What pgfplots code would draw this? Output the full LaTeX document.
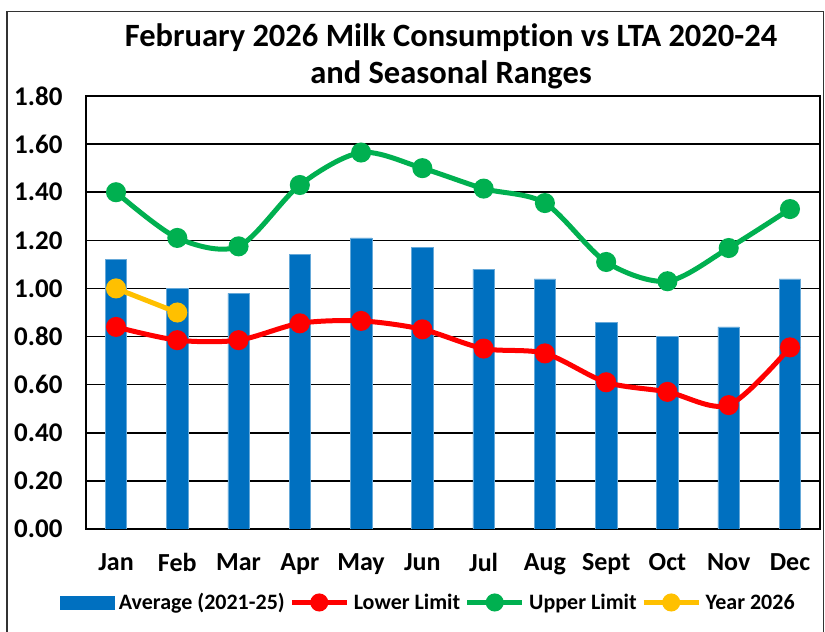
\documentclass[border=0pt]{standalone}
\usepackage{fontspec}
\setmainfont{Carlito}[Ligatures=NoCommon]
\usepackage{pgfplots}
\pgfplotsset{compat=1.18}
\definecolor{barblue}{RGB}{0,112,192}
\definecolor{lred}{RGB}{255,0,0}
\definecolor{ugreen}{RGB}{0,176,80}
\definecolor{yyel}{RGB}{255,192,0}
\pgfplotstableread{
x avg lower upper
0 1.12 0.84 1.40
1 1.00 0.785 1.21
2 0.98 0.785 1.175
3 1.14 0.855 1.43
4 1.21 0.865 1.565
5 1.17 0.83 1.50
6 1.08 0.75 1.415
7 1.04 0.73 1.355
8 0.86 0.61 1.11
9 0.80 0.57 1.03
10 0.84 0.515 1.168
11 1.04 0.755 1.33
}\data
\pgfplotstableread{
x y
0 1.00
1 0.90
}\yeardata
\begin{document}
\begin{tikzpicture}
\useasboundingbox (0,0) rectangle (825pt,632pt);
\draw[line width=1.5pt, black!80] (7pt,-5pt) rectangle (823.5pt,620.5pt);
\begin{axis}[
  at={(86pt,103pt)}, anchor=south west,
  scale only axis, width=734pt, height=433pt,
  xmin=-0.49, xmax=11.49, ymin=0, ymax=1.8,
  axis line style={line width=2.5pt, black},
  ytick={0,0.2,...,1.81},
  xtick={0,...,11},
  xticklabels={Jan,Feb,Mar,Apr,May,Jun,Jul,Aug,Sept,Oct,Nov,Dec},
  major tick length=0pt,
  ymajorgrids, grid style={line width=1.6pt, black},
  /pgf/number format/assume math mode=true,
  yticklabel={\pgfmathprintnumber[fixed,fixed zerofill,precision=2]{\tick}},
  yticklabel style={font=\fontsize{27}{27}\selectfont\bfseries, xshift=-20pt},
  xticklabel style={font=\fontsize{26}{26}\selectfont\bfseries, yshift=-21pt},
  title={February 2026 Milk Consumption vs LTA 2020-24\\and Seasonal Ranges},
  title style={font=\fontsize{32.5}{37}\selectfont\bfseries, align=center, at={(0.5,1)}, anchor=south, yshift=-3pt, xshift=-2pt},
  legend columns=4,
  legend style={draw=none, fill=none, at={(0.468,-0.1697)}, anchor=center,
    font=\fontsize{22}{22}\selectfont\bfseries,
    nodes={inner xsep=4.5pt},
    /tikz/every even column/.append style={column sep=0pt},
    inner sep=0pt, cells={anchor=west}},
  legend cell align=left,
]
\addplot[ybar, bar width=21.5pt, bar shift=0pt, fill=barblue, draw=barblue!60, line width=0.6pt,
  legend image code/.code={\fill[barblue] (0pt,-6.5pt) rectangle (54pt,6.5pt);}]
  table[x=x, y=avg] {\data};
\addlegendentry{Average (2021-25)}
\addplot[lred, line width=5pt, smooth, tension=0.5, mark=*, mark size=7.5pt, mark options={solid},
  legend image code/.code={\draw[lred, line width=5pt] (0pt,0pt) -- (55pt,0pt); \fill[lred] (27.5pt,0pt) circle (6.5pt);}]
  table[x=x, y=lower] {\data};
\addlegendentry{Lower Limit}
\addplot[ugreen, line width=5pt, smooth, tension=0.5, mark=*, mark size=7.5pt, mark options={solid},
  legend image code/.code={\draw[ugreen, line width=5pt] (0pt,0pt) -- (55pt,0pt); \fill[ugreen] (27.5pt,0pt) circle (6.5pt);}]
  table[x=x, y=upper] {\data};
\addlegendentry{Upper Limit}
\addplot[yyel, line width=5pt, mark=*, mark size=7.5pt, mark options={solid},
  legend image code/.code={\draw[yyel, line width=5pt] (0pt,0pt) -- (55pt,0pt); \fill[yyel] (27.5pt,0pt) circle (6.5pt);}]
  table[x=x, y=y] {\yeardata};
\addlegendentry{Year 2026}
\end{axis}
\end{tikzpicture}
\end{document}
